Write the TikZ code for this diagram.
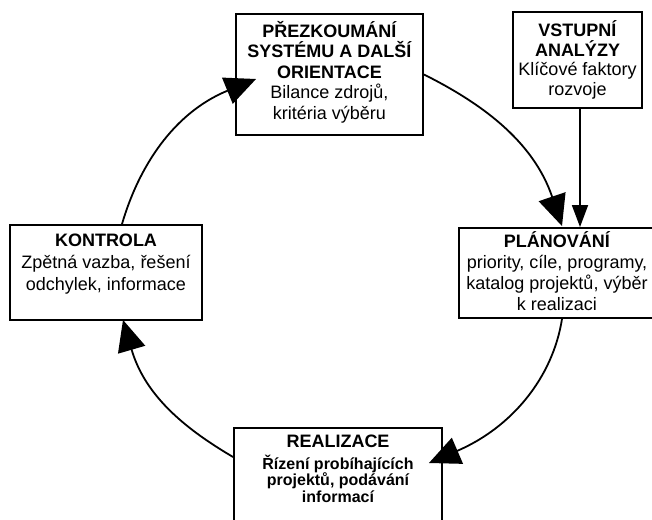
\documentclass[tikz,border=0pt]{standalone}
\usepackage{fontspec}
\setmainfont{Liberation Sans}
\usetikzlibrary{arrows.meta,calc}
\begin{document}
\begin{tikzpicture}[x=1pt,y=-1pt,
  box/.style={draw,line width=1.9pt,rectangle,inner sep=0pt},
  boxtext/.style={align=center,inner sep=0pt,anchor=base,font=\fontsize{18}{20.5}\selectfont},
  flow/.style={line width=1.8pt,-{Triangle[length=31pt,width=28pt]}},
  feed/.style={line width=1.8pt,-{Triangle[length=22pt,width=16pt]}}]
\useasboundingbox (0,0) rectangle (652,519);
\begin{scope}
\clip (0,0) rectangle (652,519);
% boxes
\node[box,minimum width=187pt,minimum height=121pt] (review) at (329.5,74.5) {};
\node[box,line width=1.5pt,minimum width=129pt,minimum height=96pt] (input) at (577.5,60) {};
\node[box,minimum width=196pt,minimum height=90pt] (plan) at (557,273) {};
\node[box,minimum width=192pt,minimum height=95pt] (control) at (106,272.5) {};
\node[box,minimum width=208pt,minimum height=97pt] (realize) at (338,476.5) {};
% texts (anchored at the baseline of their last line)
\node[boxtext] (review-text) at (329.5,119)
  {\textbf{PŘEZKOUMÁNÍ}\\\textbf{SYSTÉMU A DALŠÍ}\\\textbf{ORIENTACE}\\Bilance zdrojů,\\kritéria výběru};
\node[boxtext,font=\fontsize{18}{19.5}\selectfont] (input-text) at (577.5,95)
  {\textbf{VSTUPNÍ}\\\textbf{ANALÝZY}\\Klíčové faktory\\rozvoje};
\node[boxtext,font=\fontsize{18}{21}\selectfont] (plan-text) at (557,310)
  {\textbf{PLÁNOVÁNÍ}\\priority, cíle, programy,\\katalog projektů, výběr\\k realizaci};
\node[boxtext,font=\fontsize{18}{22}\selectfont] (control-text) at (106,290)
  {\textbf{KONTROLA}\\Zpětná vazba, řešení\\odchylek, informace};
\node[boxtext] (realize-title) at (338,447) {\textbf{REALIZACE}};
\node[boxtext,font=\fontsize{16}{16.5}\selectfont\bfseries] (realize-text) at (338,502)
  {Řízení probíhajících\\projektů, podávání\\informací};
% cycle connectors
\draw[flow] ($(control.north)+(16,0)$) .. controls (138.6,167) and (173.3,112.9) .. ($(review.west)+(21,4.5)$);
\draw[flow] (review.east) .. controls (479,102) and (532.9,139.8) .. ($(plan.north)+(5,-1)$);
\draw[flow] ($(plan.south)+(5,0)$) .. controls (552.7,378) and (511.4,427.6) .. ($(realize.east)+(-14,-13.5)$);
\draw[flow] ($(realize.west)+(0,-19.5)$) .. controls (188.8,430.9) and (145.6,397.9) .. ($(control.south)+(17,-1)$);
% input feed
\draw[feed] ($(input.south)+(2.5,0)$) -- ($(plan.north)+(23,0)$);
\end{scope}
\end{tikzpicture}
\end{document}
